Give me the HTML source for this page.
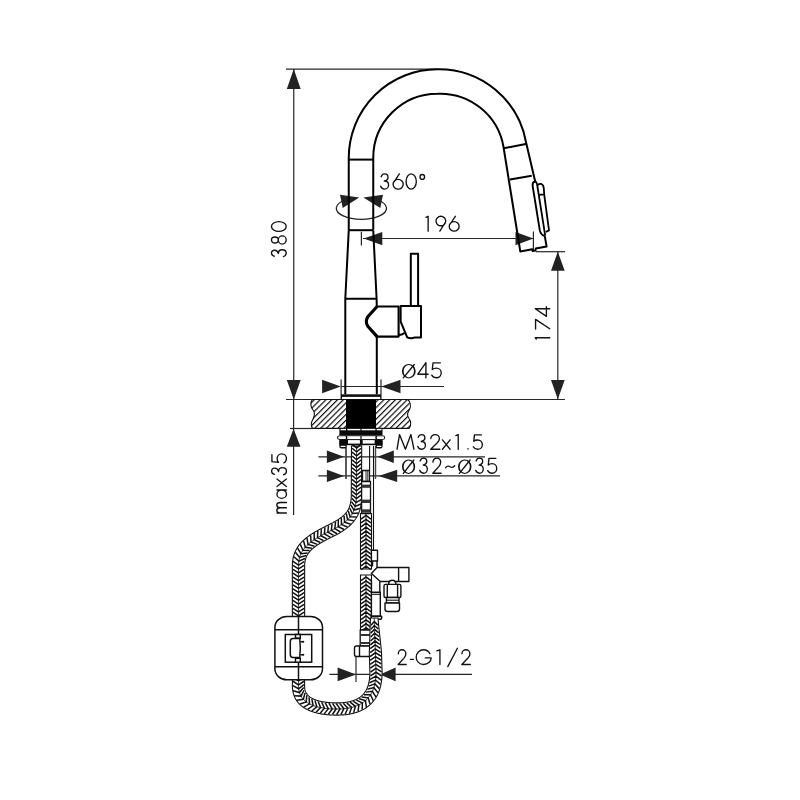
<!DOCTYPE html>
<html><head><meta charset="utf-8">
<style>
html,body{margin:0;padding:0;background:#fff;width:800px;height:800px;overflow:hidden}
svg{display:block}
text{font-family:"Liberation Sans",sans-serif;fill:#222}
</style></head>
<body>
<svg width="800" height="800" viewBox="0 0 800 800">
<defs>
<pattern id="hatch" patternUnits="userSpaceOnUse" width="4.1" height="4.1" patternTransform="rotate(45)">
<rect x="0" y="0" width="1.2" height="4.1" fill="#111"/>
</pattern>
</defs>
<rect width="800" height="800" fill="#fff"/>

<!-- ===== dimension lines ===== -->
<g stroke="#262626" stroke-width="1.2" fill="none">
  <!-- 380 -->
  <line x1="286" y1="69.2" x2="437" y2="69.2"/>
  <line x1="293.75" y1="69" x2="293.75" y2="399.5"/>
  <line x1="286" y1="399.5" x2="565" y2="399.5"/>
  <!-- max35 -->
  <line x1="290" y1="428.5" x2="312" y2="428.5"/>
  <line x1="293.6" y1="399.5" x2="293.6" y2="515"/>
  <!-- 174 -->
  <line x1="535.8" y1="251.7" x2="565" y2="251.7"/>
  <line x1="557.8" y1="251.7" x2="557.8" y2="399.5"/>
  <!-- 196 -->
  <line x1="363" y1="238.5" x2="533.4" y2="238.5"/>
  <line x1="361.4" y1="231.8" x2="361.4" y2="245.6"/>
  <line x1="533.4" y1="231.6" x2="533.4" y2="251.3"/>
  <!-- 45 -->
  <line x1="341" y1="386.5" x2="444" y2="386.5"/>
  <line x1="341.1" y1="379.4" x2="341.1" y2="399"/>
  <line x1="381" y1="379.4" x2="381" y2="399"/>
  <!-- 32~35 -->
  <line x1="318.4" y1="456.8" x2="485" y2="456.8"/>
  <line x1="318.4" y1="475.9" x2="500" y2="475.9"/>
  <line x1="346" y1="448" x2="346" y2="479"/>
  <line x1="375.5" y1="448" x2="375.5" y2="479"/>
  <!-- 2-G1/2 -->
  <line x1="329.4" y1="674.4" x2="472" y2="674.4"/>
  <line x1="356" y1="657" x2="356" y2="682"/>
</g>
<g fill="#222" stroke="none">
  <!-- 380 arrows -->
  <path d="M293.75,69 L286.8,89 L300.7,89Z"/>
  <path d="M293.75,399.5 L286.8,380 L300.7,380Z"/>
  <!-- max35 -->
  <path d="M293.5,428.7 L286.8,446.8 L300.5,446.8Z"/>
  <!-- 174 -->
  <path d="M557.8,251.7 L551,270.8 L564.7,270.8Z"/>
  <path d="M557.8,399.2 L551,380 L564.7,380Z"/>
  <!-- 196 -->
  <path d="M363.7,238.6 L382.3,232 L382.3,245.2Z"/>
  <path d="M533.4,238.6 L515.5,232 L515.5,245.2Z"/>
  <!-- 45 -->
  <path d="M340.8,386.5 L322.1,379.7 L322.1,393.3Z"/>
  <path d="M381.3,386.5 L400.5,379.7 L400.5,393.3Z"/>
  <!-- 32 -->
  <path d="M344,456.8 L326.9,450.6 L326.9,463Z"/>
  <path d="M377.5,456.8 L393.8,450.6 L393.8,463Z"/>
  <path d="M344,475.9 L326.9,469.7 L326.9,482.1Z"/>
  <path d="M378.6,475.9 L397.2,469.7 L397.2,482.1Z"/>
  <!-- G1/2 -->
  <path d="M356,674.4 L337.6,667.6 L337.6,681.2Z"/>
  <path d="M380,674.4 L395.6,667.6 L395.6,681.2Z"/>
  <!-- 360 arrows -->
  <path d="M359.2,197.4 L340,194.8 L342.7,207.9Z"/>
  <path d="M363.4,197.4 L383,194.8 L380.3,207.9Z"/>
</g>
<!-- 360 ellipse -->
<path d="M345,200 A25.1,11 0 1 0 377.8,200" stroke="#222" stroke-width="1.3" fill="none"/>

<!-- ===== texts ===== -->
<g fill="none" stroke="#111" stroke-width="1.35" stroke-linecap="round" stroke-linejoin="round"><path transform="translate(380.57,173.92) scale(0.1379,0.1515) translate(0,0)" d="M4,19 C8,8 18,0 30,0 C44,0 54,10 54,23 C54,35 43,43 27,47 C47,47 58,58 58,73 C58,88 46,100 30,100 C17,100 6,93 1,81" vector-effect="non-scaling-stroke"/><path transform="translate(392.93,173.92) scale(0.1493,0.1515) translate(0,0)" d="M43,0 L8,52 M1,68 A34,32 0 1 1 69,68 A34,32 0 1 1 1,68Z" vector-effect="non-scaling-stroke"/><path transform="translate(406.07,173.92) scale(0.1464,0.1515) translate(0,0)" d="M0,50 A35,50 0 1 1 70,50 A35,50 0 1 1 0,50Z" vector-effect="non-scaling-stroke"/><path transform="translate(419.98,173.92) scale(0.1437,0.1515) translate(-2,0)" d="M2,20 A16,16 0 1 1 34,20 A16,16 0 1 1 2,20Z" vector-effect="non-scaling-stroke"/></g>
<g fill="none" stroke="#111" stroke-width="1.35" stroke-linecap="round" stroke-linejoin="round"><path transform="translate(425.98,216.28) scale(0.2150,0.1485) translate(0,0)" d="M0,7 L10,0 L10,100" vector-effect="non-scaling-stroke"/><path transform="translate(435.98,216.28) scale(0.1434,0.1485) translate(0,0)" d="M27,100 L61,47 M0,32 A34,32 0 1 1 68,32 A34,32 0 1 1 0,32Z" vector-effect="non-scaling-stroke"/><path transform="translate(449.07,216.28) scale(0.1457,0.1485) translate(0,0)" d="M43,0 L8,52 M1,68 A34,32 0 1 1 69,68 A34,32 0 1 1 1,68Z" vector-effect="non-scaling-stroke"/></g>
<g fill="none" stroke="#111" stroke-width="1.35" stroke-linecap="round" stroke-linejoin="round"><path transform="translate(401.90,361.90) scale(0.1643,0.1650) translate(0,0)" d="M0,56.4 A42,43.6 0 1 1 84,56.4 A42,43.6 0 1 1 0,56.4Z M10.5,56.4 A31.5,37.4 0 1 1 73.5,56.4 A31.5,37.4 0 1 1 10.5,56.4Z" fill="#111" fill-rule="evenodd" stroke="none"/><path transform="translate(402.57,362.57) scale(0.1482,0.1515) translate(0,0)" d="M5,101 L79,13" vector-effect="non-scaling-stroke"/><path transform="translate(417.68,362.57) scale(0.1472,0.1515) translate(0,0)" d="M56,100 L56,0 L1,77 L71,77" vector-effect="non-scaling-stroke"/><path transform="translate(431.57,362.57) scale(0.1462,0.1515) translate(0,0)" d="M60,2 L10,2 L5,46 C12,40 22,37 33,37 C51,37 66,51 66,69 C66,87 51,100 33,100 C19,100 7,93 1,83" vector-effect="non-scaling-stroke"/></g>
<g fill="none" stroke="#111" stroke-width="1.35" stroke-linecap="round" stroke-linejoin="round"><path transform="translate(398.07,649.78) scale(0.1216,0.1475) translate(0,0)" d="M2,27 C2,11 16,0 33,0 C50,0 64,12 64,28 C64,40 57,48 47,58 L1,100 L67,100" vector-effect="non-scaling-stroke"/><path transform="translate(410.43,649.78) scale(0.1107,0.1475) translate(0,0)" d="M0,65 L28,65" vector-effect="non-scaling-stroke"/><path transform="translate(416.18,649.78) scale(0.1495,0.1475) translate(0,0)" d="M92,27 C83,10 67,0 50,0 C22,0 0,22 0,50 C0,78 22,100 50,100 C78,100 100,80 100,55 L61,55" vector-effect="non-scaling-stroke"/><path transform="translate(436.78,649.78) scale(0.3150,0.1475) translate(0,0)" d="M0,7 L10,0 L10,100" vector-effect="non-scaling-stroke"/><path transform="translate(447.78,649.78) scale(0.1379,0.1475) translate(0,0)" d="M0,114 L70,-10" vector-effect="non-scaling-stroke"/><path transform="translate(461.68,649.78) scale(0.1291,0.1475) translate(0,0)" d="M2,27 C2,11 16,0 33,0 C50,0 64,12 64,28 C64,40 57,48 47,58 L1,100 L67,100" vector-effect="non-scaling-stroke"/></g>
<g fill="none" stroke="#111" stroke-width="1.35" stroke-linecap="round" stroke-linejoin="round"><path transform="translate(397.07,434.57) scale(0.1440,0.1465) translate(0,0)" d="M0,100 L17,0 L58,100 L96,0 L117,100" vector-effect="non-scaling-stroke"/><path transform="translate(417.68,434.57) scale(0.1336,0.1465) translate(0,0)" d="M4,19 C8,8 18,0 30,0 C44,0 54,10 54,23 C54,35 43,43 27,47 C47,47 58,58 58,73 C58,88 46,100 30,100 C17,100 6,93 1,81" vector-effect="non-scaling-stroke"/><path transform="translate(430.57,434.57) scale(0.1381,0.1465) translate(0,0)" d="M2,27 C2,11 16,0 33,0 C50,0 64,12 64,28 C64,40 57,48 47,58 L1,100 L67,100" vector-effect="non-scaling-stroke"/><path transform="translate(442.43,434.57) scale(0.1426,0.1465) translate(-2,0)" d="M2,36 L56,100 M56,36 L2,100" vector-effect="non-scaling-stroke"/><path transform="translate(455.88,434.57) scale(0.2350,0.1465) translate(0,0)" d="M0,7 L10,0 L10,100" vector-effect="non-scaling-stroke"/><path transform="translate(467.68,434.57) scale(0.3250,0.1465) translate(-4,0)" d="M5,97 L5,99" vector-effect="non-scaling-stroke"/><path transform="translate(473.07,434.57) scale(0.1402,0.1465) translate(0,0)" d="M60,2 L10,2 L5,46 C12,40 22,37 33,37 C51,37 66,51 66,69 C66,87 51,100 33,100 C19,100 7,93 1,83" vector-effect="non-scaling-stroke"/></g>
<g fill="none" stroke="#111" stroke-width="1.35" stroke-linecap="round" stroke-linejoin="round"><path transform="translate(402.00,457.40) scale(0.1571,0.1650) translate(0,0)" d="M0,56.4 A42,43.6 0 1 1 84,56.4 A42,43.6 0 1 1 0,56.4Z M10.5,56.4 A31.5,37.4 0 1 1 73.5,56.4 A31.5,37.4 0 1 1 10.5,56.4Z" fill="#111" fill-rule="evenodd" stroke="none"/><path transform="translate(402.68,458.07) scale(0.1411,0.1515) translate(0,0)" d="M5,101 L79,13" vector-effect="non-scaling-stroke"/><path transform="translate(419.57,458.07) scale(0.1336,0.1515) translate(0,0)" d="M4,19 C8,8 18,0 30,0 C44,0 54,10 54,23 C54,35 43,43 27,47 C47,47 58,58 58,73 C58,88 46,100 30,100 C17,100 6,93 1,81" vector-effect="non-scaling-stroke"/><path transform="translate(432.68,458.07) scale(0.1254,0.1515) translate(0,0)" d="M2,27 C2,11 16,0 33,0 C50,0 64,12 64,28 C64,40 57,48 47,58 L1,100 L67,100" vector-effect="non-scaling-stroke"/><path transform="translate(445.57,458.07) scale(0.1476,0.1515) translate(0,0)" d="M0,64 C8,52 18,50 30,57 C42,64 52,63 62,51" vector-effect="non-scaling-stroke"/><path transform="translate(458.00,457.40) scale(0.1607,0.1650) translate(0,0)" d="M0,56.4 A42,43.6 0 1 1 84,56.4 A42,43.6 0 1 1 0,56.4Z M10.5,56.4 A31.5,37.4 0 1 1 73.5,56.4 A31.5,37.4 0 1 1 10.5,56.4Z" fill="#111" fill-rule="evenodd" stroke="none"/><path transform="translate(458.68,458.07) scale(0.1446,0.1515) translate(0,0)" d="M5,101 L79,13" vector-effect="non-scaling-stroke"/><path transform="translate(475.57,458.07) scale(0.1319,0.1515) translate(0,0)" d="M4,19 C8,8 18,0 30,0 C44,0 54,10 54,23 C54,35 43,43 27,47 C47,47 58,58 58,73 C58,88 46,100 30,100 C17,100 6,93 1,81" vector-effect="non-scaling-stroke"/><path transform="translate(487.57,458.07) scale(0.1386,0.1515) translate(0,0)" d="M60,2 L10,2 L5,46 C12,40 22,37 33,37 C51,37 66,51 66,69 C66,87 51,100 33,100 C19,100 7,93 1,83" vector-effect="non-scaling-stroke"/></g>
<g fill="none" stroke="#111" stroke-width="1.35" stroke-linecap="round" stroke-linejoin="round"><path transform="translate(286.22,256.72) rotate(-90) translate(0,-14.75) scale(0.1205,0.1475) translate(0,0)" d="M4,19 C8,8 18,0 30,0 C44,0 54,10 54,23 C54,35 43,43 27,47 C47,47 58,58 58,73 C58,88 46,100 30,100 C17,100 6,93 1,81" vector-effect="non-scaling-stroke"/><path transform="translate(286.22,244.07) rotate(-90) translate(0,-14.75) scale(0.1313,0.1475) translate(-2,0)" d="M10,23 A23,23 0 1 1 56,23 A23,23 0 1 1 10,23Z M2,73 A31,27 0 1 1 64,73 A31,27 0 1 1 2,73Z" vector-effect="non-scaling-stroke"/><path transform="translate(286.22,231.42) rotate(-90) translate(0,-14.75) scale(0.1407,0.1475) translate(0,0)" d="M0,50 A35,50 0 1 1 70,50 A35,50 0 1 1 0,50Z" vector-effect="non-scaling-stroke"/></g>
<g fill="none" stroke="#111" stroke-width="1.35" stroke-linecap="round" stroke-linejoin="round"><path transform="translate(286.43,513.03) rotate(-90) translate(0,-14.80) scale(0.1296,0.1480) translate(-3,0)" d="M3,100 L3,36 M3,62 C3,45 13,35 24,35 C36,35 44,44 44,58 L44,100 M44,58 C44,45 53,35 64,35 C76,35 84,44 84,60 L84,100" vector-effect="non-scaling-stroke"/><path transform="translate(286.43,498.32) rotate(-90) translate(0,-14.80) scale(0.1305,0.1480) translate(-1,0)" d="M1,68 A32,32 0 1 1 65,68 A32,32 0 1 1 1,68Z M65,36 L65,100" vector-effect="non-scaling-stroke"/><path transform="translate(286.43,486.43) rotate(-90) translate(0,-14.80) scale(0.1361,0.1480) translate(-2,0)" d="M2,36 L56,100 M56,36 L2,100" vector-effect="non-scaling-stroke"/><path transform="translate(286.43,474.88) rotate(-90) translate(0,-14.80) scale(0.1241,0.1480) translate(0,0)" d="M4,19 C8,8 18,0 30,0 C44,0 54,10 54,23 C54,35 43,43 27,47 C47,47 58,58 58,73 C58,88 46,100 30,100 C17,100 6,93 1,81" vector-effect="non-scaling-stroke"/><path transform="translate(286.43,463.02) rotate(-90) translate(0,-14.80) scale(0.1386,0.1480) translate(0,0)" d="M60,2 L10,2 L5,46 C12,40 22,37 33,37 C51,37 66,51 66,69 C66,87 51,100 33,100 C19,100 7,93 1,83" vector-effect="non-scaling-stroke"/></g>
<g fill="none" stroke="#111" stroke-width="1.35" stroke-linecap="round" stroke-linejoin="round"><path transform="translate(549.73,339.02) rotate(-90) translate(0,-14.45) scale(0.1250,0.1445) translate(0,0)" d="M0,7 L10,0 L10,100" vector-effect="non-scaling-stroke"/><path transform="translate(549.73,329.22) rotate(-90) translate(0,-14.45) scale(0.1539,0.1445) translate(0,0)" d="M1,2 L64,2 L3,100" vector-effect="non-scaling-stroke"/><path transform="translate(549.73,316.57) rotate(-90) translate(0,-14.45) scale(0.1394,0.1445) translate(0,0)" d="M56,100 L56,0 L1,77 L71,77" vector-effect="non-scaling-stroke"/></g>

<!-- ===== faucet ===== -->
<g stroke="#000" stroke-width="2" fill="none" stroke-linejoin="round">
  <!-- spout -->
  <path d="M348.75,230.2 L348.75,158 A88.75,88.75 0 0 1 437.5,69.25 A88.75,88.75 0 0 1 526.2,143 L535.2,181.4 M544.8,236.2 L546.6,246.6 L535.8,248.5 L535.5,250.4 L532.5,250.9 L532.2,249.3 L520.3,251.5 L503.6,147.5 A64.25,64.25 0 0 0 437.5,93.75 A64.25,64.25 0 0 0 373.25,158 L373.25,229.8"/>
  <line x1="348.75" y1="159.6" x2="373.25" y2="159.6"/>
  <line x1="348.75" y1="230.2" x2="373.25" y2="230.2"/>
  <line x1="503.8" y1="148.2" x2="527" y2="143.8"/>
  <line x1="510" y1="179.5" x2="531.8" y2="175.8"/>
  <!-- button -->
  <path d="M535.2,181.4 C534,181.6 532.4,182.8 532.6,185.6 L539.8,230.4 C540.5,233.5 542,235.2 544.8,236.2" stroke-width="1.9"/>
  <path d="M535.2,181.4 C536.4,182 537,183.2 537.2,185 L545.2,235.6" stroke-width="1.8"/>
  <path d="M537.6,185 C538.8,184 540,183.8 541.4,184 C543,184.6 543.6,186 543.8,188.5 L544.2,194.4 L539.2,194.9" stroke-width="1.8"/>
  <path d="M544.2,194.6 L549,230.4 L545.8,232" stroke-width="1.8"/>
  <!-- body -->
  <path d="M348.75,230.2 L345.3,298.75 L345.3,394.3"/>
  <path d="M373.25,230.2 L376.6,298.75 L376.8,306.5"/>
  <path d="M376.8,336.6 L376.8,394.3"/>
  <line x1="345.3" y1="298.75" x2="376.6" y2="298.75"/>
  <!-- handle -->
  <path d="M377.1,306.5 L368,316.5 Q364.6,321.6 368,326.5 L377.1,336.6" stroke-width="3.2"/>
  <path d="M377.1,306.5 L398.6,306.5 L398.6,336.6 L377.1,336.6" stroke-width="2.1"/>
  <path d="M398.6,335 Q402,335 404.5,333"/>
  <path d="M400.65,306.1 L421,306.1 L421,337.4 L415,337.4 Q411,339.2 407.2,337.4 L400.65,321.6 Z"/>
  <rect x="410.8" y="253.75" width="7.3" height="52.35"/>
</g>
<!-- base ring -->
<rect x="341" y="394.3" width="40" height="5.4" fill="#111"/>
<rect x="342" y="396.9" width="38.2" height="2.2" fill="#fff"/>

<!-- countertop -->
<path d="M312.2,399.5 C309.8,403 310.8,407.5 313,410 C315.5,413 314.5,416 313,419 C311,422.5 311.2,426.5 312.5,428.4 L409.2,428.4 C411.5,425.5 411,421 409,418.5 C406.5,415 407.5,413 409.5,409.5 C411.5,405.5 410,401.5 407.8,399.5 Z" fill="url(#hatch)" stroke="#111" stroke-width="1.1"/>
<rect x="346" y="399.6" width="30" height="28.8" fill="#000"/>


<!-- ===== hoses ===== -->
<path d="M351.50,445.98 L351.50,446.73 L351.49,447.49 L351.49,448.24 L351.49,448.99 L351.48,449.75 L351.48,450.50 L351.48,451.25 L351.48,452.01 L351.47,452.76 L351.47,453.52 L351.47,454.27 L351.46,455.02 L351.46,455.78 L351.46,456.53 L351.45,457.28 L351.45,458.04 L351.45,458.79 L351.45,459.54 L351.44,460.30 L351.44,461.05 L351.44,461.80 L351.43,462.56 L351.43,463.31 L351.43,464.07 L351.42,464.82 L351.42,465.57 L351.42,466.33 L351.42,467.08 L351.41,467.83 L351.41,468.59 L351.41,469.34 L351.40,470.09 L351.40,470.85 L351.40,471.60 L351.39,472.35 L351.39,473.11 L351.39,473.86 L351.39,474.62 L351.38,475.37 L351.38,476.12 L351.38,476.88 L351.37,477.63 L351.37,478.38 L351.37,479.14 L351.36,479.89 L351.36,480.64 L351.36,481.40 L351.36,482.15 L351.35,482.91 L351.35,483.66 L351.35,484.41 L351.34,485.17 L351.34,485.92 L351.34,486.67 L351.33,487.43 L351.33,488.18 L351.33,488.93 L351.33,489.69 L351.32,490.44 L351.32,491.19 L351.32,491.95 L351.31,492.70 L351.31,493.46 L351.31,494.21 L351.30,494.96 L351.30,495.72 L351.27,496.44 L351.24,497.13 L351.20,497.81 L351.15,498.49 L351.10,499.16 L351.03,499.83 L350.95,500.48 L350.86,501.14 L350.75,501.79 L350.64,502.43 L350.51,503.06 L350.38,503.68 L350.23,504.30 L350.06,504.91 L349.89,505.51 L349.70,506.10 L349.49,506.68 L349.28,507.25 L349.05,507.81 L348.80,508.36 L348.54,508.90 L348.27,509.43 L347.99,509.96 L347.68,510.47 L347.37,510.97 L347.04,511.47 L346.70,511.96 L346.34,512.43 L345.96,512.90 L345.58,513.37 L345.17,513.82 L344.76,514.27 L344.33,514.71 L343.89,515.15 L343.43,515.58 L342.96,516.00 L342.48,516.42 L341.98,516.82 L341.48,517.23 L340.96,517.63 L340.44,518.02 L339.90,518.41 L339.35,518.79 L338.80,519.16 L338.23,519.54 L337.66,519.90 L337.08,520.26 L336.49,520.62 L335.90,520.98 L335.30,521.33 L334.69,521.67 L334.08,522.01 L333.49,522.35 L333.01,522.62 L332.47,522.89 L331.80,523.22 L331.12,523.56 L330.45,523.90 L329.77,524.23 L329.10,524.57 L328.42,524.91 L327.74,525.25 L327.06,525.59 L326.38,525.93 L325.70,526.28 L325.02,526.62 L324.34,526.97 L323.66,527.32 L322.97,527.67 L322.29,528.03 L321.60,528.38 L320.92,528.75 L320.23,529.11 L319.55,529.48 L318.86,529.85 L318.17,530.22 L317.48,530.61 L316.80,530.99 L316.11,531.38 L315.42,531.78 L314.73,532.18 L314.05,532.59 L313.36,533.01 L312.67,533.43 L311.99,533.86 L311.30,534.30 L310.62,534.75 L309.94,535.21 L309.26,535.68 L308.58,536.16 L307.91,536.66 L307.23,537.16 L306.56,537.68 L305.90,538.21 L305.24,538.75 L304.58,539.31 L303.93,539.89 L303.29,540.48 L302.65,541.09 L302.03,541.72 L301.41,542.36 L300.80,543.03 L300.21,543.71 L299.63,544.41 L299.07,545.13 L298.52,545.87 L297.99,546.62 L297.48,547.40 L296.99,548.19 L296.52,549.00 L296.07,549.82 L295.65,550.66 L295.25,551.51 L294.88,552.37 L294.54,553.24 L294.22,554.12 L293.93,555.01 L293.67,555.90 L293.43,556.80 L293.22,557.69 L293.03,558.59 L292.87,559.49 L292.73,560.39 L292.61,561.29 L292.52,562.18 L292.45,563.07 L292.40,563.96 L292.37,564.84 L292.35,565.70 L292.35,566.51 L292.35,567.26 L292.35,568.02 L292.35,568.77 L292.35,569.52 L292.35,570.28 L292.35,571.03 L292.35,571.78 L292.35,572.54 L292.35,573.29 L292.35,574.05 L292.35,574.80 L292.35,575.55 L292.35,576.31 L292.35,577.06 L292.35,577.81 L292.35,578.57 L292.35,579.32 L292.35,580.07 L292.35,580.83 L292.35,581.58 L292.35,582.33 L292.35,583.09 L292.35,583.84 L292.35,584.60 L292.35,585.35 L292.35,586.10 L292.35,586.86 L292.35,587.61 L292.35,588.36 L292.35,589.12 L292.35,589.87 L292.35,590.62 L292.35,591.38 L292.35,592.13 L292.35,592.89 L292.35,593.64 L292.35,594.39 L292.35,595.15 L292.35,595.90 L292.35,596.65 L292.35,597.41 L292.35,598.16 L292.35,598.91 L292.35,599.67 L292.35,600.42 L292.35,601.17 L292.35,601.93 L292.35,602.68 L292.35,603.44 L292.35,604.19 L292.35,604.94 L292.35,605.70 L292.35,606.45 L292.35,607.20 L292.35,607.96 L292.35,608.71 L292.35,609.46 L292.35,610.22 L292.35,610.97 L292.35,611.72 L292.35,612.48 L292.35,613.23 L292.35,613.99 L292.35,614.74 L292.35,615.49 L292.35,616.25 L292.35,617.00 L304.65,617.00 L304.65,616.25 L304.65,615.49 L304.65,614.74 L304.65,613.99 L304.65,613.23 L304.65,612.48 L304.65,611.72 L304.65,610.97 L304.65,610.22 L304.65,609.46 L304.65,608.71 L304.65,607.96 L304.65,607.20 L304.65,606.45 L304.65,605.70 L304.65,604.94 L304.65,604.19 L304.65,603.44 L304.65,602.68 L304.65,601.93 L304.65,601.17 L304.65,600.42 L304.65,599.67 L304.65,598.91 L304.65,598.16 L304.65,597.41 L304.65,596.65 L304.65,595.90 L304.65,595.15 L304.65,594.39 L304.65,593.64 L304.65,592.89 L304.65,592.13 L304.65,591.38 L304.65,590.62 L304.65,589.87 L304.65,589.12 L304.65,588.36 L304.65,587.61 L304.65,586.86 L304.65,586.10 L304.65,585.35 L304.65,584.60 L304.65,583.84 L304.65,583.09 L304.65,582.33 L304.65,581.58 L304.65,580.83 L304.65,580.07 L304.65,579.32 L304.65,578.57 L304.65,577.81 L304.65,577.06 L304.65,576.31 L304.65,575.55 L304.65,574.80 L304.65,574.05 L304.65,573.29 L304.65,572.54 L304.65,571.78 L304.65,571.03 L304.65,570.28 L304.65,569.52 L304.65,568.77 L304.65,568.02 L304.65,567.26 L304.65,566.51 L304.65,565.81 L304.66,565.17 L304.68,564.54 L304.72,563.92 L304.77,563.31 L304.83,562.71 L304.91,562.11 L305.00,561.52 L305.11,560.93 L305.22,560.35 L305.36,559.79 L305.51,559.23 L305.67,558.67 L305.85,558.13 L306.04,557.59 L306.25,557.06 L306.48,556.54 L306.72,556.02 L306.97,555.51 L307.25,555.01 L307.53,554.51 L307.84,554.03 L308.16,553.54 L308.49,553.06 L308.84,552.59 L309.21,552.13 L309.59,551.67 L309.98,551.21 L310.39,550.76 L310.82,550.32 L311.26,549.88 L311.71,549.45 L312.18,549.02 L312.66,548.59 L313.15,548.17 L313.65,547.76 L314.16,547.35 L314.68,546.95 L315.22,546.55 L315.76,546.15 L316.31,545.76 L316.87,545.37 L317.44,544.99 L318.01,544.61 L318.60,544.24 L319.19,543.87 L319.78,543.50 L320.38,543.13 L320.99,542.77 L321.61,542.41 L322.22,542.05 L322.85,541.70 L323.47,541.35 L324.10,541.00 L324.74,540.65 L325.38,540.31 L326.02,539.96 L326.67,539.62 L327.31,539.28 L327.96,538.94 L328.62,538.60 L329.28,538.26 L329.93,537.92 L330.59,537.59 L331.26,537.25 L331.92,536.92 L332.59,536.58 L333.26,536.25 L333.93,535.91 L334.60,535.57 L335.27,535.24 L335.94,534.90 L336.61,534.57 L337.29,534.23 L337.97,533.89 L338.78,533.49 L339.61,533.02 L340.32,532.59 L341.00,532.16 L341.69,531.73 L342.36,531.28 L343.04,530.83 L343.72,530.36 L344.39,529.89 L345.07,529.41 L345.73,528.91 L346.40,528.41 L347.06,527.89 L347.72,527.36 L348.38,526.82 L349.03,526.26 L349.67,525.68 L350.30,525.10 L350.93,524.49 L351.55,523.87 L352.16,523.23 L352.76,522.58 L353.34,521.91 L353.91,521.22 L354.47,520.51 L355.01,519.79 L355.54,519.05 L356.04,518.29 L356.52,517.52 L356.99,516.73 L357.43,515.93 L357.84,515.12 L358.24,514.30 L358.61,513.46 L358.95,512.62 L359.27,511.78 L359.57,510.93 L359.84,510.07 L360.09,509.21 L360.31,508.35 L360.52,507.49 L360.70,506.64 L360.86,505.78 L361.00,504.92 L361.12,504.07 L361.23,503.22 L361.31,502.37 L361.38,501.52 L361.44,500.68 L361.48,499.84 L361.51,499.01 L361.53,498.18 L361.53,497.36 L361.52,496.54 L361.51,495.76 L361.50,495.00 L361.51,494.25 L361.51,493.50 L361.51,492.74 L361.52,491.99 L361.52,491.24 L361.52,490.48 L361.53,489.73 L361.53,488.97 L361.53,488.22 L361.53,487.47 L361.54,486.71 L361.54,485.96 L361.54,485.21 L361.55,484.45 L361.55,483.70 L361.55,482.95 L361.56,482.19 L361.56,481.44 L361.56,480.69 L361.56,479.93 L361.57,479.18 L361.57,478.42 L361.57,477.67 L361.58,476.92 L361.58,476.16 L361.58,475.41 L361.59,474.66 L361.59,473.90 L361.59,473.15 L361.59,472.40 L361.60,471.64 L361.60,470.89 L361.60,470.14 L361.61,469.38 L361.61,468.63 L361.61,467.87 L361.62,467.12 L361.62,466.37 L361.62,465.61 L361.62,464.86 L361.63,464.11 L361.63,463.35 L361.63,462.60 L361.64,461.85 L361.64,461.09 L361.64,460.34 L361.65,459.58 L361.65,458.83 L361.65,458.08 L361.65,457.32 L361.66,456.57 L361.66,455.82 L361.66,455.06 L361.67,454.31 L361.67,453.56 L361.67,452.80 L361.68,452.05 L361.68,451.30 L361.68,450.54 L361.68,449.79 L361.69,449.03 L361.69,448.28 L361.69,447.53 L361.70,446.77 L361.70,446.02Z" fill="#fff" stroke="#111" stroke-width="1.1"/>
<path d="M352.06,444.33 L356.59,447.95 L361.16,444.37 M352.04,448.23 L356.58,451.85 L361.14,448.27 M352.03,452.13 L356.56,455.75 L361.13,452.17 M352.01,456.03 L356.55,459.65 L361.11,456.07 M351.99,459.93 L356.53,463.55 L361.09,459.97 M351.98,463.83 L356.51,467.45 L361.08,463.87 M351.96,467.73 L356.50,471.35 L361.06,467.77 M351.95,471.63 L356.48,475.25 L361.05,471.67 M351.93,475.53 L356.47,479.15 L361.03,475.57 M351.92,479.43 L356.45,483.05 L361.02,479.47 M351.90,483.33 L356.44,486.95 L361.00,483.37 M351.89,487.23 L356.42,490.85 L360.98,487.27 M351.87,491.13 L356.41,494.75 L360.97,491.17 M351.85,494.89 L356.34,498.65 L361.08,495.22 M351.78,498.32 L355.99,502.53 L361.16,499.61 M351.42,501.70 L355.25,506.36 L360.81,504.03 M350.75,504.93 L354.05,510.07 L359.95,508.50 M349.71,507.97 L352.34,513.57 L358.50,512.89 M348.24,510.81 L350.15,516.79 L356.41,517.03 M346.31,513.45 L347.53,519.68 L353.79,520.76 M344.06,515.84 L344.62,522.26 L350.78,524.17 M341.34,518.05 L341.48,524.59 L347.55,527.02 M338.37,520.08 L338.21,526.70 L344.18,529.55 M335.52,521.98 L334.80,528.60 L340.52,532.00 M332.03,523.72 L331.31,530.34 L337.04,533.74 M328.51,525.47 L327.83,532.09 L333.57,535.47 M324.95,527.25 L324.36,533.88 L330.15,537.17 M321.38,529.09 L320.93,535.73 L326.78,538.90 M317.79,531.01 L317.54,537.67 L323.49,540.66 M314.20,533.08 L314.24,539.73 L320.31,542.46 M310.62,535.34 L311.05,541.98 L317.27,544.35 M306.96,537.89 L308.04,544.46 L314.47,546.21 M303.51,540.81 L305.30,547.23 L311.87,548.27 M300.31,544.19 L302.92,550.31 L309.57,550.49 M297.54,548.03 L301.01,553.71 L307.62,552.91 M295.37,552.26 L299.64,557.36 L306.06,555.59 M293.90,556.70 L298.83,561.17 L304.95,558.54 M293.01,561.31 L298.51,565.06 L304.21,561.61 M292.90,565.36 L298.50,568.96 L304.10,565.36 M292.90,569.26 L298.50,572.86 L304.10,569.26 M292.90,573.16 L298.50,576.76 L304.10,573.16 M292.90,577.06 L298.50,580.66 L304.10,577.06 M292.90,580.96 L298.50,584.56 L304.10,580.96 M292.90,584.86 L298.50,588.46 L304.10,584.86 M292.90,588.76 L298.50,592.36 L304.10,588.76 M292.90,592.66 L298.50,596.26 L304.10,592.66 M292.90,596.56 L298.50,600.16 L304.10,596.56 M292.90,600.46 L298.50,604.06 L304.10,600.46 M292.90,604.36 L298.50,607.96 L304.10,604.36 M292.90,608.26 L298.50,611.86 L304.10,608.26 M292.90,612.16 L298.50,615.76 L304.10,612.16" fill="none" stroke="#111" stroke-width="1.5"/>
<path d="M356.60,446.00 L356.60,446.75 L356.59,447.51 L356.59,448.26 L356.59,449.01 L356.58,449.77 L356.58,450.52 L356.58,451.28 L356.58,452.03 L356.57,452.78 L356.57,453.54 L356.57,454.29 L356.56,455.04 L356.56,455.80 L356.56,456.55 L356.55,457.30 L356.55,458.06 L356.55,458.81 L356.55,459.56 L356.54,460.32 L356.54,461.07 L356.54,461.83 L356.53,462.58 L356.53,463.33 L356.53,464.09 L356.52,464.84 L356.52,465.59 L356.52,466.35 L356.52,467.10 L356.51,467.85 L356.51,468.61 L356.51,469.36 L356.50,470.11 L356.50,470.87 L356.50,471.62 L356.49,472.38 L356.49,473.13 L356.49,473.88 L356.49,474.64 L356.48,475.39 L356.48,476.14 L356.48,476.90 L356.47,477.65 L356.47,478.40 L356.47,479.16 L356.46,479.91 L356.46,480.66 L356.46,481.42 L356.46,482.17 L356.45,482.93 L356.45,483.68 L356.45,484.43 L356.44,485.19 L356.44,485.94 L356.44,486.69 L356.43,487.45 L356.43,488.20 L356.43,488.95 L356.43,489.71 L356.42,490.46 L356.42,491.21 L356.42,491.97 L356.41,492.72 L356.41,493.48 L356.41,494.23 L356.40,494.98 L356.40,495.74 L356.40,496.49 L356.39,497.24 L356.37,498.00 L356.33,498.75 L356.29,499.50 L356.23,500.25 L356.17,501.00 L356.08,501.75 L355.99,502.50 L355.88,503.25 L355.76,503.99 L355.62,504.73 L355.46,505.47 L355.29,506.20 L355.10,506.93 L354.89,507.65 L354.67,508.37 L354.42,509.09 L354.16,509.79 L353.88,510.49 L353.58,511.18 L353.25,511.86 L352.91,512.54 L352.56,513.20 L352.18,513.85 L351.78,514.49 L351.37,515.12 L350.94,515.74 L350.49,516.35 L350.02,516.94 L349.54,517.52 L349.05,518.09 L348.54,518.65 L348.02,519.19 L347.49,519.72 L346.95,520.25 L346.39,520.76 L345.83,521.25 L345.25,521.74 L344.67,522.22 L344.08,522.69 L343.48,523.15 L342.88,523.60 L342.27,524.04 L341.65,524.47 L341.03,524.90 L340.40,525.31 L339.77,525.72 L339.13,526.13 L338.49,526.53 L337.85,526.92 L337.20,527.30 L336.55,527.68 L335.89,528.05 L335.22,528.39 L334.54,528.73 L333.87,529.06 L333.20,529.40 L332.52,529.74 L331.85,530.07 L331.17,530.41 L330.50,530.75 L329.83,531.09 L329.15,531.42 L328.48,531.76 L327.81,532.11 L327.14,532.45 L326.47,532.79 L325.80,533.14 L325.13,533.48 L324.46,533.83 L323.79,534.18 L323.13,534.54 L322.46,534.89 L321.80,535.25 L321.14,535.61 L320.48,535.98 L319.82,536.35 L319.17,536.72 L318.51,537.09 L317.86,537.48 L317.22,537.86 L316.57,538.25 L315.93,538.65 L315.29,539.05 L314.66,539.46 L314.03,539.87 L313.40,540.29 L312.78,540.72 L312.17,541.16 L311.56,541.60 L310.96,542.05 L310.36,542.51 L309.77,542.98 L309.19,543.46 L308.62,543.95 L308.05,544.45 L307.50,544.96 L306.96,545.48 L306.42,546.02 L305.90,546.56 L305.39,547.12 L304.90,547.69 L304.42,548.27 L303.95,548.86 L303.50,549.47 L303.07,550.08 L302.66,550.71 L302.26,551.35 L301.88,552.00 L301.52,552.67 L301.18,553.34 L300.87,554.02 L300.57,554.71 L300.29,555.42 L300.04,556.12 L299.80,556.84 L299.59,557.56 L299.39,558.29 L299.22,559.02 L299.07,559.76 L298.93,560.50 L298.82,561.25 L298.72,562.00 L298.65,562.75 L298.59,563.50 L298.54,564.25 L298.51,565.00 L298.50,565.76 L298.50,566.51 L298.50,567.26 L298.50,568.02 L298.50,568.77 L298.50,569.52 L298.50,570.28 L298.50,571.03 L298.50,571.78 L298.50,572.54 L298.50,573.29 L298.50,574.05 L298.50,574.80 L298.50,575.55 L298.50,576.31 L298.50,577.06 L298.50,577.81 L298.50,578.57 L298.50,579.32 L298.50,580.07 L298.50,580.83 L298.50,581.58 L298.50,582.33 L298.50,583.09 L298.50,583.84 L298.50,584.60 L298.50,585.35 L298.50,586.10 L298.50,586.86 L298.50,587.61 L298.50,588.36 L298.50,589.12 L298.50,589.87 L298.50,590.62 L298.50,591.38 L298.50,592.13 L298.50,592.89 L298.50,593.64 L298.50,594.39 L298.50,595.15 L298.50,595.90 L298.50,596.65 L298.50,597.41 L298.50,598.16 L298.50,598.91 L298.50,599.67 L298.50,600.42 L298.50,601.17 L298.50,601.93 L298.50,602.68 L298.50,603.44 L298.50,604.19 L298.50,604.94 L298.50,605.70 L298.50,606.45 L298.50,607.20 L298.50,607.96 L298.50,608.71 L298.50,609.46 L298.50,610.22 L298.50,610.97 L298.50,611.72 L298.50,612.48 L298.50,613.23 L298.50,613.99 L298.50,614.74 L298.50,615.49 L298.50,616.25 L298.50,617.00" fill="none" stroke="#111" stroke-width="0.9"/>
<path d="M360.50,513.50 L360.50,514.26 L360.50,515.02 L360.50,515.78 L360.50,516.54 L360.50,517.30 L360.50,518.06 L360.50,518.82 L360.50,519.58 L360.50,520.34 L360.50,521.10 L360.50,521.86 L360.50,522.62 L360.50,523.38 L360.50,524.14 L360.50,524.90 L360.50,525.66 L360.50,526.42 L360.50,527.18 L360.50,527.95 L360.50,528.71 L360.50,529.47 L360.50,530.23 L360.50,530.99 L360.50,531.75 L360.50,532.51 L360.50,533.27 L360.50,534.03 L360.50,534.79 L360.50,535.55 L360.50,536.31 L360.50,537.07 L360.50,537.83 L360.50,538.59 L360.50,539.35 L360.50,540.11 L360.50,540.87 L360.50,541.63 L360.50,542.39 L360.50,543.15 L360.50,543.91 L360.50,544.67 L360.50,545.43 L360.50,546.19 L360.50,546.95 L360.50,547.71 L360.50,548.47 L360.50,549.23 L360.50,549.99 L360.50,550.75 L360.50,551.51 L360.50,552.27 L360.50,553.03 L360.50,553.79 L360.50,554.55 L360.50,555.32 L360.50,556.08 L360.50,556.84 L360.50,557.60 L360.50,558.36 L360.50,559.12 L360.50,559.88 L360.50,560.64 L360.50,561.40 L360.50,562.16 L360.50,562.92 L360.50,563.68 L360.50,564.44 L360.50,565.20 L360.50,565.96 L360.50,566.72 L360.50,567.48 L360.50,568.24 L360.50,569.00 L371.50,569.00 L371.50,568.24 L371.50,567.48 L371.50,566.72 L371.50,565.96 L371.50,565.20 L371.50,564.44 L371.50,563.68 L371.50,562.92 L371.50,562.16 L371.50,561.40 L371.50,560.64 L371.50,559.88 L371.50,559.12 L371.50,558.36 L371.50,557.60 L371.50,556.84 L371.50,556.08 L371.50,555.32 L371.50,554.55 L371.50,553.79 L371.50,553.03 L371.50,552.27 L371.50,551.51 L371.50,550.75 L371.50,549.99 L371.50,549.23 L371.50,548.47 L371.50,547.71 L371.50,546.95 L371.50,546.19 L371.50,545.43 L371.50,544.67 L371.50,543.91 L371.50,543.15 L371.50,542.39 L371.50,541.63 L371.50,540.87 L371.50,540.11 L371.50,539.35 L371.50,538.59 L371.50,537.83 L371.50,537.07 L371.50,536.31 L371.50,535.55 L371.50,534.79 L371.50,534.03 L371.50,533.27 L371.50,532.51 L371.50,531.75 L371.50,530.99 L371.50,530.23 L371.50,529.47 L371.50,528.71 L371.50,527.95 L371.50,527.18 L371.50,526.42 L371.50,525.66 L371.50,524.90 L371.50,524.14 L371.50,523.38 L371.50,522.62 L371.50,521.86 L371.50,521.10 L371.50,520.34 L371.50,519.58 L371.50,518.82 L371.50,518.06 L371.50,517.30 L371.50,516.54 L371.50,515.78 L371.50,515.02 L371.50,514.26 L371.50,513.50Z" fill="#fff" stroke="#111" stroke-width="1.1"/>
<path d="M361.05,519.05 L366.00,515.45 L370.95,519.05 M361.05,522.95 L366.00,519.35 L370.95,522.95 M361.05,526.85 L366.00,523.25 L370.95,526.85 M361.05,530.75 L366.00,527.15 L370.95,530.75 M361.05,534.65 L366.00,531.05 L370.95,534.65 M361.05,538.55 L366.00,534.95 L370.95,538.55 M361.05,542.45 L366.00,538.85 L370.95,542.45 M361.05,546.35 L366.00,542.75 L370.95,546.35 M361.05,550.25 L366.00,546.65 L370.95,550.25 M361.05,554.15 L366.00,550.55 L370.95,554.15 M361.05,558.05 L366.00,554.45 L370.95,558.05 M361.05,561.95 L366.00,558.35 L370.95,561.95 M361.05,565.85 L366.00,562.25 L370.95,565.85 M361.05,569.75 L366.00,566.15 L370.95,569.75" fill="none" stroke="#111" stroke-width="1.5"/>
<path d="M366.00,513.50 L366.00,514.26 L366.00,515.02 L366.00,515.78 L366.00,516.54 L366.00,517.30 L366.00,518.06 L366.00,518.82 L366.00,519.58 L366.00,520.34 L366.00,521.10 L366.00,521.86 L366.00,522.62 L366.00,523.38 L366.00,524.14 L366.00,524.90 L366.00,525.66 L366.00,526.42 L366.00,527.18 L366.00,527.95 L366.00,528.71 L366.00,529.47 L366.00,530.23 L366.00,530.99 L366.00,531.75 L366.00,532.51 L366.00,533.27 L366.00,534.03 L366.00,534.79 L366.00,535.55 L366.00,536.31 L366.00,537.07 L366.00,537.83 L366.00,538.59 L366.00,539.35 L366.00,540.11 L366.00,540.87 L366.00,541.63 L366.00,542.39 L366.00,543.15 L366.00,543.91 L366.00,544.67 L366.00,545.43 L366.00,546.19 L366.00,546.95 L366.00,547.71 L366.00,548.47 L366.00,549.23 L366.00,549.99 L366.00,550.75 L366.00,551.51 L366.00,552.27 L366.00,553.03 L366.00,553.79 L366.00,554.55 L366.00,555.32 L366.00,556.08 L366.00,556.84 L366.00,557.60 L366.00,558.36 L366.00,559.12 L366.00,559.88 L366.00,560.64 L366.00,561.40 L366.00,562.16 L366.00,562.92 L366.00,563.68 L366.00,564.44 L366.00,565.20 L366.00,565.96 L366.00,566.72 L366.00,567.48 L366.00,568.24 L366.00,569.00" fill="none" stroke="#111" stroke-width="0.9"/>
<path d="M360.50,575.00 L360.50,575.76 L360.50,576.53 L360.50,577.29 L360.50,578.06 L360.50,578.82 L360.50,579.58 L360.50,580.35 L360.50,581.11 L360.50,581.88 L360.50,582.64 L360.50,583.40 L360.50,584.17 L360.50,584.93 L360.50,585.69 L360.50,586.46 L360.50,587.22 L360.50,587.99 L360.50,588.75 L360.50,589.51 L360.50,590.28 L360.50,591.04 L360.50,591.81 L360.50,592.57 L360.50,593.33 L360.50,594.10 L360.50,594.86 L360.50,595.62 L360.50,596.39 L360.50,597.15 L360.50,597.92 L360.50,598.68 L360.50,599.44 L360.50,600.21 L360.50,600.97 L360.50,601.74 L360.50,602.50 L360.50,603.26 L360.50,604.03 L360.50,604.79 L360.50,605.56 L360.50,606.32 L360.50,607.08 L360.50,607.85 L360.50,608.61 L360.50,609.38 L360.50,610.14 L360.50,610.90 L360.50,611.67 L360.50,612.43 L360.50,613.19 L360.50,613.96 L360.50,614.72 L360.50,615.49 L360.50,616.25 L360.50,617.01 L360.50,617.78 L360.50,618.54 L360.50,619.31 L360.50,620.07 L360.50,620.83 L360.50,621.60 L360.50,622.36 L360.50,623.12 L360.50,623.89 L360.50,624.65 L360.50,625.42 L360.50,626.18 L360.50,626.94 L360.50,627.71 L360.50,628.47 L360.50,629.24 L360.50,630.00 L371.50,630.00 L371.50,629.24 L371.50,628.47 L371.50,627.71 L371.50,626.94 L371.50,626.18 L371.50,625.42 L371.50,624.65 L371.50,623.89 L371.50,623.12 L371.50,622.36 L371.50,621.60 L371.50,620.83 L371.50,620.07 L371.50,619.31 L371.50,618.54 L371.50,617.78 L371.50,617.01 L371.50,616.25 L371.50,615.49 L371.50,614.72 L371.50,613.96 L371.50,613.19 L371.50,612.43 L371.50,611.67 L371.50,610.90 L371.50,610.14 L371.50,609.38 L371.50,608.61 L371.50,607.85 L371.50,607.08 L371.50,606.32 L371.50,605.56 L371.50,604.79 L371.50,604.03 L371.50,603.26 L371.50,602.50 L371.50,601.74 L371.50,600.97 L371.50,600.21 L371.50,599.44 L371.50,598.68 L371.50,597.92 L371.50,597.15 L371.50,596.39 L371.50,595.62 L371.50,594.86 L371.50,594.10 L371.50,593.33 L371.50,592.57 L371.50,591.81 L371.50,591.04 L371.50,590.28 L371.50,589.51 L371.50,588.75 L371.50,587.99 L371.50,587.22 L371.50,586.46 L371.50,585.69 L371.50,584.93 L371.50,584.17 L371.50,583.40 L371.50,582.64 L371.50,581.88 L371.50,581.11 L371.50,580.35 L371.50,579.58 L371.50,578.82 L371.50,578.06 L371.50,577.29 L371.50,576.53 L371.50,575.76 L371.50,575.00Z" fill="#fff" stroke="#111" stroke-width="1.1"/>
<path d="M361.05,580.55 L366.00,576.95 L370.95,580.55 M361.05,584.45 L366.00,580.85 L370.95,584.45 M361.05,588.35 L366.00,584.75 L370.95,588.35 M361.05,592.25 L366.00,588.65 L370.95,592.25 M361.05,596.15 L366.00,592.55 L370.95,596.15 M361.05,600.05 L366.00,596.45 L370.95,600.05 M361.05,603.95 L366.00,600.35 L370.95,603.95 M361.05,607.85 L366.00,604.25 L370.95,607.85 M361.05,611.75 L366.00,608.15 L370.95,611.75 M361.05,615.65 L366.00,612.05 L370.95,615.65 M361.05,619.55 L366.00,615.95 L370.95,619.55 M361.05,623.45 L366.00,619.85 L370.95,623.45 M361.05,627.35 L366.00,623.75 L370.95,627.35 M361.05,631.25 L366.00,627.65 L370.95,631.25" fill="none" stroke="#111" stroke-width="1.5"/>
<path d="M366.00,575.00 L366.00,575.76 L366.00,576.53 L366.00,577.29 L366.00,578.06 L366.00,578.82 L366.00,579.58 L366.00,580.35 L366.00,581.11 L366.00,581.88 L366.00,582.64 L366.00,583.40 L366.00,584.17 L366.00,584.93 L366.00,585.69 L366.00,586.46 L366.00,587.22 L366.00,587.99 L366.00,588.75 L366.00,589.51 L366.00,590.28 L366.00,591.04 L366.00,591.81 L366.00,592.57 L366.00,593.33 L366.00,594.10 L366.00,594.86 L366.00,595.62 L366.00,596.39 L366.00,597.15 L366.00,597.92 L366.00,598.68 L366.00,599.44 L366.00,600.21 L366.00,600.97 L366.00,601.74 L366.00,602.50 L366.00,603.26 L366.00,604.03 L366.00,604.79 L366.00,605.56 L366.00,606.32 L366.00,607.08 L366.00,607.85 L366.00,608.61 L366.00,609.38 L366.00,610.14 L366.00,610.90 L366.00,611.67 L366.00,612.43 L366.00,613.19 L366.00,613.96 L366.00,614.72 L366.00,615.49 L366.00,616.25 L366.00,617.01 L366.00,617.78 L366.00,618.54 L366.00,619.31 L366.00,620.07 L366.00,620.83 L366.00,621.60 L366.00,622.36 L366.00,623.12 L366.00,623.89 L366.00,624.65 L366.00,625.42 L366.00,626.18 L366.00,626.94 L366.00,627.71 L366.00,628.47 L366.00,629.24 L366.00,630.00" fill="none" stroke="#111" stroke-width="0.9"/>

<!-- ===== fittings ===== -->
<g stroke="#111" stroke-width="1.4" fill="#fff" stroke-linejoin="round">
  <!-- shank ext lines -->
  <line x1="346" y1="446" x2="346" y2="479" stroke="#444" stroke-width="1.2"/>
  <line x1="375.5" y1="446" x2="375.5" y2="479" stroke="#444" stroke-width="1.2"/>
  <!-- thin tube -->
  <line x1="369.6" y1="446" x2="369.6" y2="471" stroke-width="1.1"/>
  <line x1="373.5" y1="446" x2="373.5" y2="550.5" stroke-width="1.1"/>
  <!-- connector -->
  <rect x="362.5" y="470.5" width="7" height="11" stroke-width="1.3"/>
  <line x1="366" y1="471" x2="366" y2="481" stroke-width="0.9"/>
  <line x1="367.8" y1="471" x2="367.8" y2="481" stroke-width="0.9"/>
  <rect x="361.6" y="481.5" width="8.9" height="32" stroke-width="1.3"/>
  <rect x="361.6" y="484.6" width="8.9" height="3.2" fill="#333" stroke="none"/>
  <rect x="361.6" y="499.6" width="8.9" height="3.4" fill="#333" stroke="none"/>
  <rect x="361.6" y="509.3" width="8.9" height="3.4" fill="#333" stroke="none"/>
  <!-- T fitting -->
  <rect x="371.4" y="550.2" width="6.1" height="10.8"/>
  <path d="M372.5,561 L372.5,566.5 M377,561 L377,567.5"/>
  <path d="M377,567.5 L408.9,567.5 L408.9,581.5 L380.3,581.5 L371.4,573.4 L377,567.5Z"/>
  <line x1="398.6" y1="567.5" x2="398.6" y2="581.5"/>
  <path d="M371.4,581 L371.4,592.5 M379.8,581.5 L379.8,592.5"/>
  <path d="M371.4,592.3 L380.3,592.3 L380.3,616.2 L371.4,616.2Z"/>
  <line x1="371.4" y1="594.3" x2="380.3" y2="594.3" stroke-width="1.1"/>
  <path d="M371.2,616.2 L381.7,616.2 Q382,619 380.5,619.2 L372,619.2 Q371,619 371.2,616.2Z"/>
  <path d="M388.6,584.4 Q388.8,580.2 392.3,580.2 Q395.8,580.2 396,584.4"/>
  <rect x="384" y="584.4" width="16.9" height="13.1" rx="1.5"/>
  <path d="M387.3,584.4 L387.3,597.5 M397.6,584.4 L397.6,597.5"/>
  <rect x="386.4" y="597.5" width="12.6" height="5.5"/>
  <line x1="386.4" y1="600.2" x2="399" y2="600.2" stroke-width="1.1"/>
  <path d="M385,603 L399.5,603 L399.5,609 Q399.5,611.5 397,611.5 L387.5,611.5 Q385,611.5 385,609Z"/>
  <!-- ferrule + nut on lower right hose -->
  <rect x="360.2" y="630" width="10.9" height="16" stroke-width="1.3"/>
  <rect x="360.2" y="634" width="10.9" height="2" fill="#333" stroke="none"/>
  <rect x="360.2" y="642" width="10.9" height="2" fill="#333" stroke="none"/>
  <rect x="354.5" y="646" width="21" height="10.5" rx="2"/>
  <path d="M359.5,646 L359.5,656.5 M371,646 L371,656.5"/>
</g>
<path d="M292.40,679.00 L292.40,679.76 L292.40,680.51 L292.40,681.27 L292.40,682.03 L292.40,682.78 L292.40,683.54 L292.40,684.30 L292.40,685.05 L292.40,685.83 L292.41,686.70 L292.44,687.64 L292.51,688.59 L292.60,689.55 L292.74,690.50 L292.90,691.47 L293.10,692.43 L293.35,693.40 L293.63,694.36 L293.95,695.31 L294.31,696.25 L294.72,697.19 L295.16,698.10 L295.65,699.00 L296.17,699.88 L296.73,700.73 L297.33,701.55 L297.95,702.35 L298.61,703.11 L299.29,703.84 L299.99,704.54 L300.72,705.21 L301.46,705.85 L302.22,706.45 L302.99,707.02 L303.77,707.56 L304.57,708.07 L305.37,708.56 L306.17,709.01 L306.98,709.44 L307.80,709.85 L308.62,710.23 L309.44,710.59 L310.26,710.93 L311.08,711.25 L311.91,711.55 L312.73,711.83 L313.56,712.10 L314.38,712.35 L315.21,712.58 L316.03,712.80 L316.85,713.01 L317.68,713.20 L318.50,713.38 L319.32,713.55 L320.14,713.71 L320.95,713.86 L321.77,714.00 L322.59,714.12 L323.40,714.24 L324.21,714.35 L325.03,714.45 L325.84,714.54 L326.65,714.62 L327.46,714.70 L328.26,714.77 L329.07,714.83 L329.87,714.88 L330.68,714.93 L331.48,714.97 L332.28,715.01 L333.08,715.04 L333.88,715.06 L334.68,715.08 L335.48,715.09 L336.27,715.10 L337.07,715.10 L337.88,715.10 L338.70,715.08 L339.51,715.06 L340.33,715.04 L341.15,715.00 L341.97,714.95 L342.79,714.90 L343.61,714.84 L344.44,714.76 L345.26,714.68 L346.09,714.59 L346.92,714.48 L347.75,714.37 L348.58,714.24 L349.41,714.10 L350.24,713.95 L351.08,713.78 L351.91,713.61 L352.75,713.41 L353.58,713.21 L354.41,712.98 L355.25,712.74 L356.08,712.49 L356.91,712.22 L357.74,711.93 L358.57,711.62 L359.39,711.30 L360.21,710.95 L361.02,710.59 L361.83,710.20 L362.64,709.80 L363.44,709.37 L364.23,708.93 L365.01,708.46 L365.78,707.97 L366.54,707.45 L367.29,706.92 L368.03,706.37 L368.76,705.79 L369.47,705.19 L370.16,704.57 L370.83,703.93 L371.49,703.27 L372.13,702.59 L372.75,701.90 L373.35,701.19 L373.92,700.46 L374.48,699.72 L375.01,698.96 L375.52,698.19 L376.01,697.41 L376.48,696.62 L376.92,695.82 L377.34,695.02 L377.74,694.20 L378.12,693.38 L378.48,692.55 L378.81,691.72 L379.13,690.89 L379.43,690.05 L379.70,689.21 L379.96,688.37 L380.20,687.53 L380.43,686.68 L380.63,685.84 L380.82,684.99 L381.00,684.15 L381.16,683.31 L381.30,682.46 L381.43,681.62 L381.55,680.78 L381.66,679.94 L381.75,679.11 L381.83,678.27 L381.90,677.44 L381.96,676.60 L382.01,675.77 L382.04,674.95 L382.07,674.12 L382.09,673.29 L382.10,672.44 L382.09,671.55 L382.06,670.73 L382.04,669.98 L382.02,669.22 L381.99,668.46 L381.97,667.71 L381.95,666.95 L381.92,666.20 L381.90,665.44 L381.87,664.68 L381.85,663.93 L381.83,663.17 L381.80,662.42 L381.78,661.66 L381.76,660.90 L381.73,660.15 L381.71,659.39 L381.69,658.64 L381.66,657.88 L381.64,657.12 L381.61,656.37 L381.59,655.61 L381.57,654.85 L381.54,654.10 L381.52,653.34 L381.50,652.59 L381.43,651.83 L381.36,651.08 L381.28,650.32 L381.21,649.57 L381.13,648.81 L381.06,648.06 L380.98,647.30 L380.91,646.55 L380.83,645.80 L380.76,645.04 L380.68,644.29 L380.61,643.53 L380.53,642.78 L380.46,642.02 L380.38,641.27 L380.31,640.51 L380.23,639.71 L380.14,638.91 L380.05,638.16 L379.96,637.41 L379.88,636.66 L379.79,635.91 L379.70,635.16 L379.62,634.41 L379.53,633.67 L379.45,632.92 L379.37,632.17 L379.28,631.42 L379.20,630.67 L379.12,629.93 L379.04,629.18 L378.96,628.43 L378.89,627.69 L378.81,626.94 L378.74,626.19 L378.67,625.45 L378.60,624.70 L378.53,623.96 L378.46,623.21 L378.40,622.47 L378.33,621.73 L378.27,620.98 L378.21,620.24 L378.16,619.49 L378.10,618.75 L378.05,617.99 L370.55,618.01 L370.50,618.77 L370.45,619.53 L370.41,620.30 L370.36,621.07 L370.32,621.84 L370.28,622.61 L370.24,623.38 L370.21,624.14 L370.18,624.91 L370.14,625.68 L370.11,626.44 L370.09,627.21 L370.06,627.98 L370.03,628.74 L370.01,629.51 L369.99,630.27 L369.96,631.04 L369.94,631.80 L369.92,632.57 L369.91,633.33 L369.89,634.09 L369.87,634.85 L369.85,635.62 L369.84,636.38 L369.82,637.14 L369.81,637.90 L369.79,638.66 L369.78,639.42 L369.76,640.14 L369.73,640.85 L369.71,641.60 L369.68,642.36 L369.65,643.12 L369.62,643.88 L369.60,644.63 L369.57,645.39 L369.54,646.15 L369.51,646.91 L369.49,647.66 L369.46,648.42 L369.43,649.18 L369.40,649.94 L369.37,650.69 L369.35,651.45 L369.32,652.21 L369.30,652.97 L369.33,653.72 L369.35,654.48 L369.37,655.24 L369.40,655.99 L369.42,656.75 L369.44,657.50 L369.47,658.26 L369.49,659.02 L369.51,659.77 L369.54,660.53 L369.56,661.28 L369.59,662.04 L369.61,662.80 L369.63,663.55 L369.66,664.31 L369.68,665.07 L369.70,665.82 L369.73,666.58 L369.75,667.33 L369.77,668.09 L369.80,668.85 L369.82,669.60 L369.85,670.36 L369.87,671.11 L369.89,671.81 L369.90,672.44 L369.89,673.09 L369.88,673.78 L369.85,674.46 L369.82,675.15 L369.78,675.83 L369.73,676.50 L369.68,677.18 L369.61,677.85 L369.54,678.51 L369.46,679.18 L369.36,679.83 L369.26,680.49 L369.15,681.14 L369.03,681.78 L368.90,682.42 L368.76,683.05 L368.60,683.67 L368.44,684.29 L368.26,684.90 L368.08,685.51 L367.88,686.11 L367.67,686.70 L367.45,687.27 L367.22,687.85 L366.98,688.41 L366.72,688.96 L366.46,689.50 L366.18,690.04 L365.89,690.56 L365.59,691.07 L365.27,691.58 L364.95,692.07 L364.61,692.55 L364.26,693.02 L363.89,693.47 L363.52,693.92 L363.13,694.36 L362.73,694.78 L362.32,695.19 L361.90,695.59 L361.46,695.98 L361.02,696.36 L360.56,696.72 L360.09,697.08 L359.60,697.42 L359.11,697.75 L358.60,698.07 L358.09,698.38 L357.56,698.68 L357.03,698.97 L356.48,699.24 L355.92,699.51 L355.36,699.76 L354.78,700.00 L354.20,700.23 L353.61,700.45 L353.01,700.66 L352.40,700.86 L351.79,701.05 L351.16,701.22 L350.53,701.39 L349.90,701.55 L349.26,701.70 L348.62,701.84 L347.97,701.96 L347.31,702.08 L346.65,702.19 L345.98,702.30 L345.32,702.39 L344.64,702.47 L343.97,702.55 L343.29,702.62 L342.61,702.68 L341.92,702.73 L341.23,702.78 L340.54,702.81 L339.85,702.85 L339.16,702.87 L338.46,702.89 L337.76,702.90 L337.06,702.90 L336.34,702.90 L335.63,702.89 L334.91,702.88 L334.20,702.86 L333.48,702.84 L332.77,702.82 L332.06,702.79 L331.35,702.75 L330.65,702.71 L329.94,702.66 L329.24,702.61 L328.54,702.55 L327.84,702.48 L327.15,702.41 L326.45,702.33 L325.76,702.25 L325.08,702.16 L324.40,702.06 L323.72,701.95 L323.04,701.84 L322.37,701.72 L321.70,701.59 L321.04,701.45 L320.39,701.31 L319.73,701.16 L319.09,700.99 L318.45,700.82 L317.82,700.64 L317.20,700.45 L316.58,700.26 L315.98,700.05 L315.38,699.83 L314.79,699.60 L314.22,699.37 L313.65,699.12 L313.10,698.86 L312.56,698.59 L312.04,698.31 L311.52,698.02 L311.03,697.73 L310.55,697.42 L310.09,697.10 L309.65,696.77 L309.22,696.43 L308.81,696.08 L308.42,695.73 L308.06,695.36 L307.71,694.98 L307.38,694.60 L307.07,694.21 L306.78,693.80 L306.50,693.39 L306.25,692.97 L306.02,692.53 L305.80,692.09 L305.60,691.63 L305.42,691.17 L305.26,690.69 L305.12,690.20 L304.99,689.69 L304.88,689.18 L304.79,688.65 L304.72,688.11 L304.66,687.56 L304.63,687.00 L304.60,686.43 L304.60,685.78 L304.60,685.05 L304.60,684.30 L304.60,683.54 L304.60,682.78 L304.60,682.03 L304.60,681.27 L304.60,680.51 L304.60,679.76 L304.60,679.00Z" fill="#fff" stroke="#111" stroke-width="1.1"/>
<path d="M292.95,677.35 L298.50,680.95 L304.05,677.35 M292.95,681.25 L298.50,684.85 L304.05,681.25 M292.82,685.63 L298.65,688.74 L303.88,684.69 M293.08,690.79 L299.46,692.55 L303.67,687.45 M294.42,695.73 L301.03,696.12 L304.07,690.24 M296.80,700.26 L303.34,699.25 L305.08,692.86 M300.01,704.05 L306.24,701.84 L306.76,695.25 M303.72,707.04 L309.55,703.90 L309.06,697.30 M307.70,709.31 L313.11,705.49 L311.83,699.00 M311.80,711.01 L316.81,706.70 L314.93,700.36 M315.99,712.33 L320.61,707.59 L318.16,701.44 M320.13,713.23 L324.46,708.23 L321.65,702.24 M324.25,713.86 L328.33,708.65 L325.24,702.80 M328.36,714.27 L332.23,708.90 L328.89,703.18 M332.46,714.50 L336.12,709.00 L332.59,703.40 M336.59,714.60 L340.02,708.94 L336.26,703.50 M340.85,714.55 L343.91,708.69 L339.81,703.50 M345.11,714.24 L347.78,708.19 L343.35,703.28 M349.40,713.65 L351.60,707.41 L346.81,702.86 M353.71,712.72 L355.34,706.31 L350.15,702.20 M358.00,711.37 L358.95,704.83 L353.36,701.29 M362.20,709.54 L362.35,702.92 L356.37,700.09 M366.39,707.13 L365.46,700.58 L359.11,698.76 M370.05,704.17 L368.21,697.82 L361.66,696.91 M373.24,700.72 L370.52,694.69 L363.91,694.70 M375.85,696.89 L372.38,691.26 L365.83,692.13 M377.89,692.83 L373.80,687.63 L367.39,689.24 M379.40,688.64 L374.82,683.87 L368.60,686.10 M380.46,684.40 L375.50,680.03 L369.48,682.78 M381.18,680.09 L375.87,676.15 L370.11,679.39 M381.55,675.85 L376.00,672.25 L370.45,675.85 M381.55,671.78 L375.89,668.35 L370.45,672.12 M381.42,667.88 L375.76,664.45 L370.33,668.22 M381.30,663.98 L375.64,660.55 L370.21,664.33 M381.18,660.08 L375.52,656.66 L370.09,660.43 M381.06,656.18 L375.40,652.76 L369.96,656.53 M380.69,652.29 L375.28,648.86 L370.09,652.62 M380.31,648.40 L375.16,644.96 L370.22,648.72 M379.93,644.51 L375.03,641.06 L370.36,644.81 M379.56,640.55 L374.86,637.17 L370.51,640.98 M379.12,636.68 L374.68,633.27 L370.57,637.06 M378.68,632.82 L374.53,629.38 L370.65,633.13 M378.21,628.98 L374.40,625.48 L370.79,629.18 M377.83,625.13 L374.32,621.58 L370.92,625.23" fill="none" stroke="#111" stroke-width="1.5"/>
<path d="M298.50,679.00 L298.50,679.76 L298.50,680.51 L298.50,681.27 L298.50,682.03 L298.50,682.78 L298.50,683.54 L298.50,684.30 L298.50,685.05 L298.50,685.81 L298.51,686.56 L298.53,687.32 L298.59,688.08 L298.66,688.83 L298.76,689.58 L298.89,690.32 L299.05,691.06 L299.23,691.80 L299.44,692.52 L299.69,693.24 L299.96,693.94 L300.26,694.64 L300.59,695.32 L300.95,695.98 L301.34,696.63 L301.75,697.27 L302.20,697.88 L302.66,698.47 L303.16,699.05 L303.67,699.60 L304.21,700.13 L304.77,700.65 L305.34,701.14 L305.93,701.61 L306.54,702.06 L307.16,702.49 L307.80,702.90 L308.45,703.29 L309.10,703.66 L309.77,704.02 L310.45,704.35 L311.14,704.67 L311.83,704.98 L312.53,705.27 L313.23,705.54 L313.94,705.80 L314.66,706.04 L315.38,706.28 L316.10,706.50 L316.83,706.70 L317.56,706.90 L318.29,707.08 L319.03,707.26 L319.77,707.42 L320.51,707.57 L321.25,707.71 L322.00,707.85 L322.74,707.97 L323.49,708.09 L324.24,708.20 L324.99,708.30 L325.74,708.39 L326.49,708.47 L327.24,708.55 L328.00,708.62 L328.75,708.69 L329.51,708.74 L330.26,708.80 L331.02,708.84 L331.77,708.88 L332.53,708.91 L333.28,708.94 L334.04,708.96 L334.80,708.98 L335.55,708.99 L336.31,709.00 L337.06,709.00 L337.82,709.00 L338.58,708.98 L339.33,708.97 L340.09,708.94 L340.85,708.91 L341.60,708.87 L342.36,708.82 L343.11,708.76 L343.86,708.69 L344.62,708.62 L345.37,708.53 L346.12,708.44 L346.87,708.33 L347.61,708.22 L348.36,708.09 L349.11,707.96 L349.85,707.81 L350.59,707.65 L351.32,707.48 L352.06,707.30 L352.79,707.10 L353.52,706.90 L354.24,706.67 L354.96,706.44 L355.67,706.19 L356.38,705.93 L357.09,705.65 L357.78,705.36 L358.47,705.05 L359.16,704.72 L359.83,704.38 L360.50,704.03 L361.16,703.66 L361.81,703.27 L362.45,702.86 L363.07,702.44 L363.69,702.00 L364.29,701.54 L364.89,701.07 L365.46,700.59 L366.03,700.08 L366.58,699.56 L367.11,699.03 L367.63,698.48 L368.13,697.91 L368.62,697.33 L369.09,696.74 L369.54,696.13 L369.98,695.51 L370.40,694.88 L370.80,694.24 L371.18,693.59 L371.55,692.93 L371.90,692.26 L372.23,691.58 L372.55,690.89 L372.85,690.20 L373.13,689.50 L373.40,688.79 L373.65,688.08 L373.89,687.36 L374.11,686.64 L374.32,685.91 L374.51,685.18 L374.69,684.44 L374.86,683.70 L375.01,682.96 L375.15,682.22 L375.28,681.48 L375.40,680.73 L375.50,679.98 L375.60,679.23 L375.68,678.48 L375.75,677.72 L375.82,676.97 L375.87,676.22 L375.91,675.46 L375.95,674.70 L375.97,673.95 L375.99,673.19 L376.00,672.44 L375.99,671.68 L375.97,670.92 L375.94,670.17 L375.92,669.41 L375.90,668.65 L375.87,667.90 L375.85,667.14 L375.82,666.39 L375.80,665.63 L375.78,664.87 L375.75,664.12 L375.73,663.36 L375.71,662.61 L375.68,661.85 L375.66,661.09 L375.64,660.34 L375.61,659.58 L375.59,658.83 L375.56,658.07 L375.54,657.31 L375.52,656.56 L375.49,655.80 L375.47,655.05 L375.45,654.29 L375.42,653.53 L375.40,652.78 L375.38,652.02 L375.35,651.27 L375.33,650.51 L375.30,649.75 L375.28,649.00 L375.26,648.24 L375.23,647.48 L375.21,646.73 L375.19,645.97 L375.16,645.22 L375.14,644.46 L375.12,643.70 L375.09,642.95 L375.07,642.19 L375.04,641.44 L375.02,640.68 L375.00,639.92 L374.96,639.17 L374.92,638.41 L374.88,637.66 L374.85,636.90 L374.81,636.15 L374.78,635.39 L374.74,634.63 L374.71,633.88 L374.68,633.12 L374.64,632.37 L374.61,631.61 L374.58,630.86 L374.55,630.10 L374.53,629.34 L374.50,628.59 L374.47,627.83 L374.45,627.08 L374.43,626.32 L374.41,625.56 L374.39,624.81 L374.37,624.05 L374.35,623.29 L374.34,622.54 L374.33,621.78 L374.32,621.03 L374.31,620.27 L374.30,619.51 L374.30,618.76 L374.30,618.00" fill="none" stroke="#111" stroke-width="0.9"/>
<!-- control box -->
<g stroke="#111" stroke-width="1.5" fill="#fff">
  <rect x="274.9" y="616.4" width="47.6" height="63.4" rx="12" ry="11"/>
  <line x1="274.9" y1="629.7" x2="322.5" y2="629.7"/>
  <line x1="274.9" y1="666.8" x2="322.5" y2="666.8"/>
  <line x1="298.5" y1="616.4" x2="298.5" y2="634.5"/>
  <line x1="298.5" y1="662.2" x2="298.5" y2="679.8"/>
  <rect x="285.3" y="634.5" width="26.4" height="27.7"/>
  <rect x="295.5" y="634.5" width="4.8" height="3.6"/>
  <rect x="295.5" y="658.3" width="4.8" height="3.9"/>
  <path d="M299.8,638.5 L293,638.5 Q290.3,638.5 290.3,641.5 L290.3,654.5 Q290.3,657.5 293,657.5 L299.8,657.5 Q300.8,648 299.8,638.5Z" fill="none"/>
  <path d="M300.4,641.7 L303.3,641.7 M300.4,654.8 L303.3,654.8" stroke-width="1.4"/>
  <circle cx="303.3" cy="641.7" r="1" fill="#111" stroke="none"/>
  <circle cx="303.3" cy="654.8" r="1" fill="#111" stroke="none"/>
</g>


<!-- nut -->
<g fill="#0a0a0a">
  <rect x="339.4" y="428.4" width="43.1" height="7.2"/>
  <rect x="340.6" y="428.9" width="5.4" height="1.4" fill="#fff"/>
  <rect x="347.3" y="428.9" width="13.1" height="1.4" fill="#fff"/>
  <rect x="361.6" y="428.9" width="13.8" height="1.4" fill="#fff"/>
  <rect x="376.7" y="428.9" width="4.8" height="1.4" fill="#fff"/>
  <rect x="337.1" y="435.4" width="48" height="4.3" rx="2"/>
  <rect x="338.2" y="436.2" width="7.8" height="2.8" rx="1.3" fill="#fff"/>
  <rect x="347.3" y="436.2" width="13.1" height="2.8" fill="#fff"/>
  <rect x="361.6" y="436.2" width="13.8" height="2.8" fill="#fff"/>
  <rect x="376.7" y="436.2" width="7.4" height="2.8" rx="1.3" fill="#fff"/>
  <rect x="339.4" y="439.4" width="43.1" height="5.8"/>
  <rect x="348" y="440.1" width="11.9" height="3.5" fill="#fff"/>
  <rect x="362.7" y="440.1" width="11.9" height="3.5" fill="#fff"/>
  <rect x="339.4" y="439.4" width="7.2" height="9.1" rx="1.8"/>
  <rect x="375.6" y="439.4" width="6.9" height="9.1" rx="1.8"/>
  <rect x="340.6" y="445.7" width="4.9" height="1.3" rx="0.6" fill="#fff"/>
  <rect x="376.8" y="445.7" width="4.6" height="1.3" rx="0.6" fill="#fff"/>
</g>
</svg>
</body></html>
